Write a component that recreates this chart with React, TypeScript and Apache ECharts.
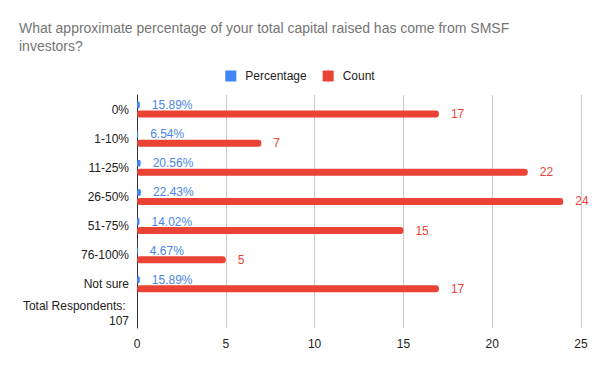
import React, { useEffect, useRef } from "react";
import * as echarts from "echarts";

const categories = ["0%", "1-10%", "11-25%", "26-50%", "51-75%", "76-100%", "Not sure", "Total Respondents: 107"];
const percentageValues: (number | null)[] = [0.1589, 0.0654, 0.2056, 0.2243, 0.1402, 0.0467, 0.1589, null];
const countValues: (number | null)[] = [17, 7, 22, 24, 15, 5, 17, null];
const xTicks = { min: 0, max: 25, interval: 5 };

const FONT = "'Liberation Sans', Arial, sans-serif";

export default function App() {
  const ref = useRef<HTMLDivElement>(null);
  useEffect(() => {
    if (!ref.current) return;
    const chart = echarts.init(ref.current, undefined, { renderer: "svg" });
    chart.setOption({
      animation: false,
      backgroundColor: "#ffffff",
      textStyle: { fontFamily: FONT },
      title: {
        text: "What approximate percentage of your total capital raised has come from SMSF\ninvestors?",
        left: 19,
        top: 19,
        padding: 0,
        textStyle: { fontSize: 14, fontWeight: "normal", color: "#757575", lineHeight: 18, fontFamily: FONT },
      },
      legend: {
        top: 65,
        left: "center",
        itemWidth: 11,
        itemHeight: 11,
        itemGap: 16,
        icon: "rect",
        textStyle: { fontSize: 12, color: "#222222", fontFamily: FONT, padding: [0, 0, 0, 4] },
        data: ["Percentage", "Count"],
      },
      grid: { left: 137, right: 19, top: 95, bottom: 43, containLabel: false },
      xAxis: {
        type: "value",
        min: xTicks.min,
        max: xTicks.max,
        interval: xTicks.interval,
        axisLine: { show: false },
        axisTick: { show: false },
        splitLine: { lineStyle: { color: "#cccccc", width: 1 } },
        axisLabel: { color: "#222222", fontSize: 12, margin: 10, fontFamily: FONT },
      },
      yAxis: {
        type: "category",
        inverse: true,
        data: categories,
        axisTick: { show: false },
        axisLine: { show: true, lineStyle: { color: "#333333", width: 1 } },
        axisLabel: {
          color: "#222222",
          fontSize: 12,
          margin: 8,
          width: 120,
          overflow: "break",
          lineHeight: 15,
          fontFamily: FONT,
        },
      },
      series: [
        {
          name: "Percentage",
          type: "bar",
          data: percentageValues,
          barWidth: 7,
          barGap: "30%",
          itemStyle: { color: "#4285F4", borderRadius: 3 },
          label: {
            show: true,
            position: "right",
            distance: 12,
            color: "#4a86e8",
            fontSize: 12,
            fontFamily: FONT,
            formatter: (p: any) => (p.value == null ? "" : (p.value * 100).toFixed(2) + "%"),
          },
        },
        {
          name: "Count",
          type: "bar",
          data: countValues,
          barWidth: 7,
          itemStyle: { color: "#EA4335", borderRadius: 3 },
          label: {
            show: true,
            position: "right",
            distance: 12,
            color: "#EA4335",
            fontSize: 12,
            fontFamily: FONT,
            formatter: (p: any) => (p.value == null ? "" : String(p.value)),
          },
        },
      ],
    });
    return () => chart.dispose();
  }, []);
  return <div ref={ref} style={{ width: 600, height: 371, position: "absolute", left: 0, top: 0 }} />;
}
